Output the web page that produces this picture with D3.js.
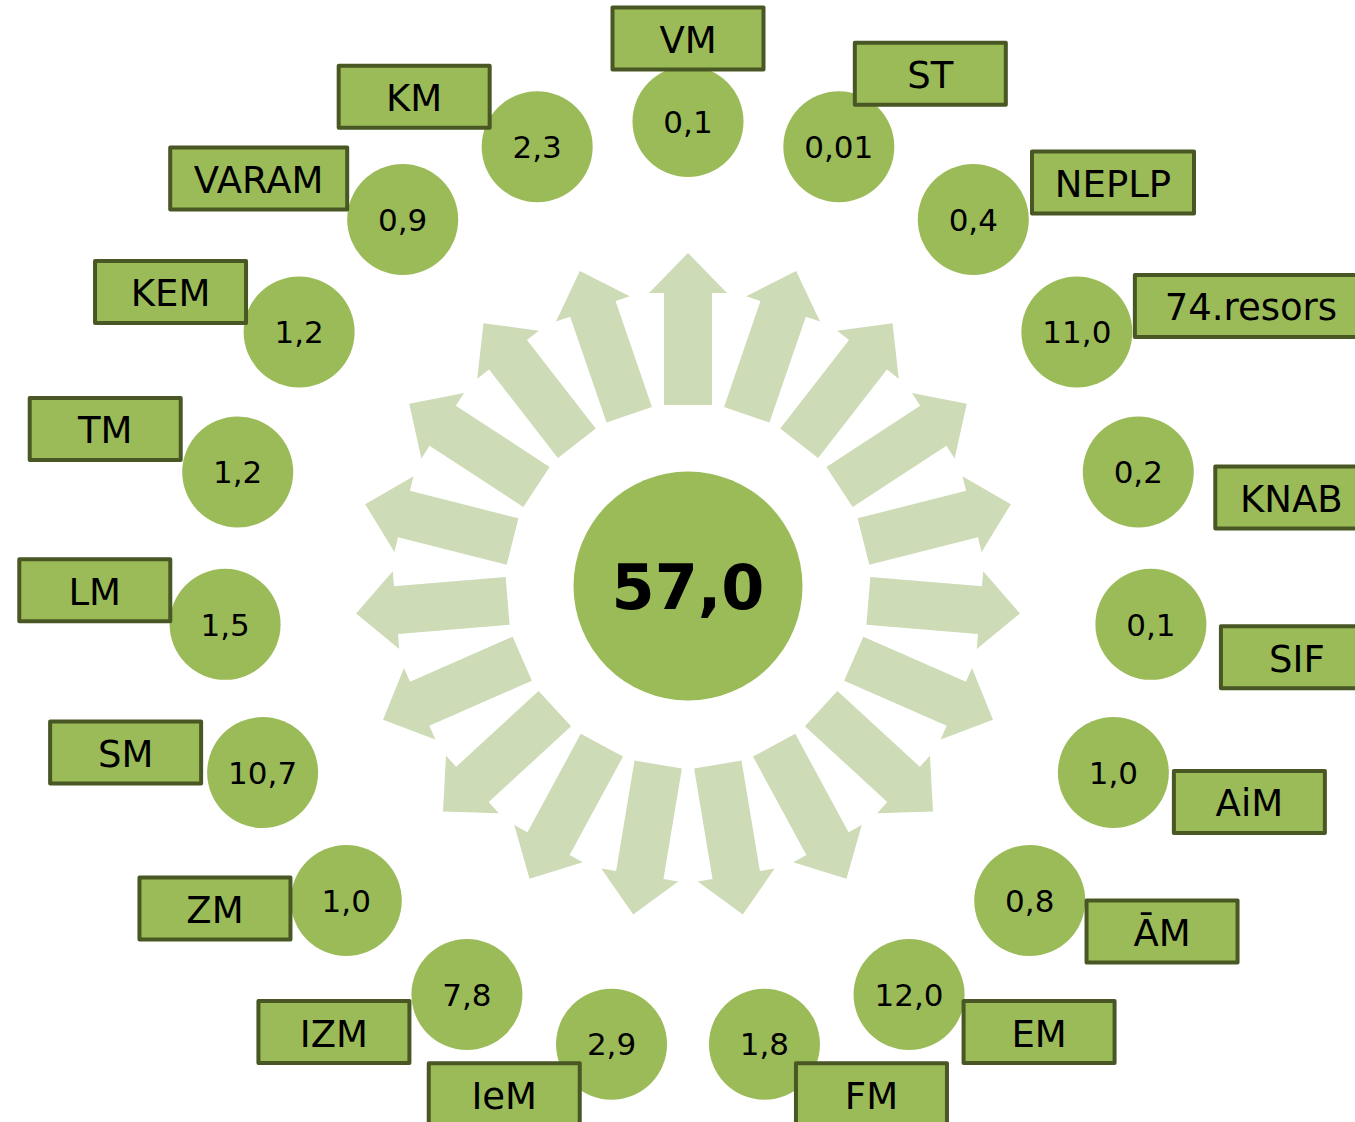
<!DOCTYPE html>
<html>
<head>
<meta charset="utf-8">
<script src="https://cdn.jsdelivr.net/npm/d3@7"></script>
<style>
html,body{margin:0;padding:0;background:#fff;overflow:hidden;}
svg{display:block;}
text{font-family:"DejaVu Sans",Verdana,sans-serif;}
</style>
</head>
<body>
<svg id="chart" width="1355" height="1122"></svg>
<script>
// ---- data ----
const categories = ["VM","ST","NEPLP","74.resors","KNAB","SIF","AiM","ĀM","EM","FM","IeM","IZM","ZM","SM","LM","TM","KEM","VARAM","KM"];
const values = [0.1, 0.01, 0.4, 11.0, 0.2, 0.1, 1.0, 0.8, 12.0, 1.8, 2.9, 7.8, 1.0, 10.7, 1.5, 1.2, 1.2, 0.9, 2.3];
const totalValue = 57.0;

// ---- layout (label box offsets from each value circle, box widths) ----
const labelDx = [0, 91.5, 139.7, 174, 153, 146, 136, 132.3, 130, 107, -107.3, -133, -131.3, -137, -130.3, -132.5, -128.6, -144, -123];
const labelDy = [-83, -73, -37, -26, 25.5, 33, 29.4, 31, 37.5, 50, 50, 37.5, 8, -20, -34, -43, -40, -41, -50];
const labelW  = [151, 151, 162, 232, 152, 152, 151, 151, 151, 151, 151, 151, 151, 151, 151, 151, 151, 177, 151];

const W = 1355, H = 1122;
const cx = 688, cy = 586;
const ringR = 464.5, dotR = 55.5, coreR = 114.5;
const arrowColor = "#cddbb6", green = "#9bbb59", dark = "#485723";

const svg = d3.select("#chart");
const locale = d3.formatLocale({decimal: ",", thousands: " ", grouping: [3], currency: ["", ""]});
const fmt = v => (v < 0.1 ? locale.format(".2f")(v) : locale.format(".1f")(v));

// angle scale: each category gets an equal slice, arrows/circles at slice start
const angle = d3.scaleBand().domain(categories).range([0, 2 * Math.PI]).paddingInner(0).paddingOuter(0);
// radial scale (positions along the spoke)
const radial = d3.scaleLinear().domain([0, 1]).range([0, ringR]);

const data = categories.map((c, i) => ({
  name: c, value: values[i], a: angle(c),
  dx: labelDx[i], dy: labelDy[i], w: labelW[i]
}));
data.forEach(d => {
  d.x = cx + radial(1) * Math.sin(d.a);
  d.y = cy - radial(1) * Math.cos(d.a);
});

// ---- arrows ----
const rBase = 181, rNeck = 293, rTip = 333, shaftHW = 24, headHW = 39;
const arrowShape = [[-shaftHW, -rBase], [-shaftHW, -rNeck], [-headHW, -rNeck], [0, -rTip],
                    [headHW, -rNeck], [shaftHW, -rNeck], [shaftHW, -rBase]];
const line = d3.line();
svg.append("g").selectAll("path").data(data).join("path")
  .attr("d", line(arrowShape) + "Z")
  .attr("transform", d => `translate(${cx},${cy}) rotate(${d.a * 180 / Math.PI})`)
  .attr("fill", arrowColor);

// ---- center circle ----
svg.append("circle").attr("cx", cx).attr("cy", cy).attr("r", coreR).attr("fill", green);
svg.append("text").attr("x", cx).attr("y", cy + 0.3645 * 62)
  .attr("text-anchor", "middle").attr("font-size", 62).attr("font-weight", "bold")
  .attr("fill", "#000").text(locale.format(".1f")(totalValue));

// ---- value circles ----
const dots = svg.append("g").selectAll("g").data(data).join("g");
dots.append("circle").attr("cx", d => d.x).attr("cy", d => d.y).attr("r", dotR).attr("fill", green);
dots.append("text").attr("x", d => d.x).attr("y", d => d.y + 0.3645 * 31)
  .attr("text-anchor", "middle").attr("font-size", 31).attr("fill", "#000")
  .text(d => fmt(d.value));

// ---- label boxes ----
const labs = svg.append("g").selectAll("g").data(data).join("g");
labs.append("rect")
  .attr("x", d => d.x + d.dx - d.w / 2).attr("y", d => d.y + d.dy - 31)
  .attr("width", d => d.w).attr("height", 62)
  .attr("fill", green).attr("stroke", dark).attr("stroke-width", 4)
  .attr("stroke-linejoin", "round");
labs.append("text")
  .attr("x", d => d.x + d.dx).attr("y", d => d.y + d.dy + 0.3645 * 37 + 1)
  .attr("text-anchor", "middle").attr("font-size", 37).attr("fill", "#000")
  .text(d => d.name);
</script>
</body>
</html>
